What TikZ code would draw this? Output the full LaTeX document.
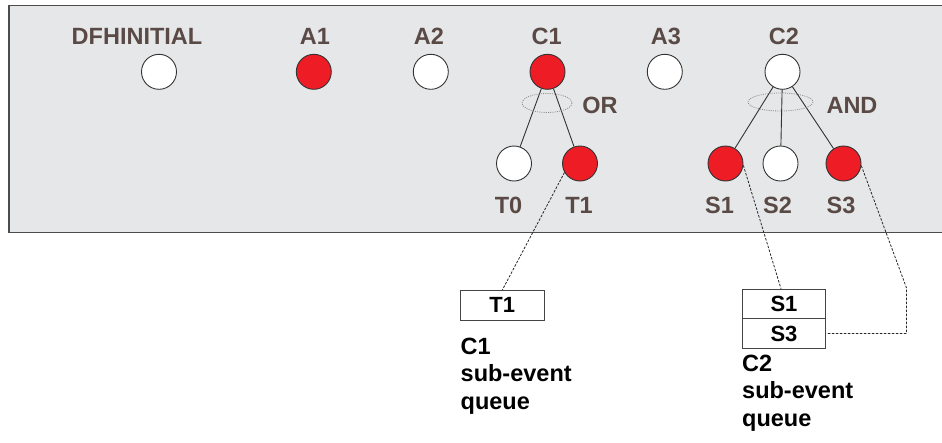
\documentclass[tikz,border=0pt]{standalone}
\usepackage{fontspec}
\setmainfont{Liberation Sans}
\begin{document}
\begin{tikzpicture}[x=1pt,y=-1pt,
  lbl/.style={text=labelc,font=\fontsize{23.5}{26}\selectfont\bfseries,anchor=base,inner sep=0pt},
  qtxt/.style={text=black,font=\fontsize{23.5}{27.5}\selectfont\bfseries,anchor=north west,inner sep=0pt,align=left},
  ev/.style={circle,draw=edgec,line width=0.9pt,minimum size=35pt,inner sep=0pt},
  on/.style={ev,fill=evred},
  off/.style={ev,fill=white},
  qbox/.style={draw=boxc,line width=1pt,fill=white,minimum width=83.5pt,minimum height=29.5pt,inner sep=0pt,font=\fontsize{22}{24}\selectfont\bfseries},
  tree/.style={draw=edgec,line width=0.9pt},
  dotl/.style={draw=black!85,line width=0.8pt,dash pattern=on 2.5pt off 1.5pt},
  grp/.style={draw=black!45,line width=0.8pt,dash pattern=on 1pt off 1.2pt}
]
\definecolor{labelc}{HTML}{5A4A46}
\definecolor{evred}{HTML}{EE1C25}
\definecolor{edgec}{HTML}{333333}
\definecolor{boxc}{HTML}{444444}
\definecolor{panel}{HTML}{E6E7E9}
\useasboundingbox (0,0) rectangle (942,442);
% panel
\fill[panel] (9,5.5) rectangle (943,232.5);
\draw[draw=black!70,line width=1.3pt] (943,5.5) -- (9,5.5) -- (9,232.5) -- (943,232.5);

% top event circles
\node[off] (dfh) at (159,71.8) {};
\node[on]  (a1)  at (313.8,71.8) {};
\node[off] (a2)  at (430.8,71.8) {};
\node[on]  (c1)  at (547.5,71.8) {};
\node[off] (a3)  at (664.8,71.8) {};
\node[off] (c2)  at (782.5,71.8) {};

% top labels
\node[lbl] (ldfh) at (137,44) {DFHINITIAL};
\node[lbl] (la1)  at (315,44) {A1};
\node[lbl] (la2)  at (429,44) {A2};
\node[lbl] (lc1)  at (546.7,44) {C1};
\node[lbl] (la3)  at (665.8,44) {A3};
\node[lbl] (lc2)  at (784,44) {C2};

% children
\node[off] (t0) at (514,163.5) {};
\node[on]  (t1) at (580,163.5) {};
\node[on]  (s1) at (725.5,163.5) {};
\node[off] (s2) at (780.5,163.5) {};
\node[on]  (s3) at (843.5,163.5) {};

\draw[tree] (c1) -- (t0);
\draw[tree] (c1) -- (t1);
\draw[tree] (c2) -- (s1);
\draw[tree] (c2) -- (s2);
\draw[tree] (c2) -- (s3);

% group ellipses
\draw[grp] (547,103) ellipse [x radius=25, y radius=9.5];
\draw[grp] (780.5,102) ellipse [x radius=32.5, y radius=9];
\node[lbl] (lor)  at (600,113) {OR};
\node[lbl] (land) at (852,113) {AND};

% child labels
\node[lbl] (lt0) at (508.5,213) {T0};
\node[lbl] (lt1) at (579,213) {T1};
\node[lbl] (ls1) at (719.5,213) {S1};
\node[lbl] (ls2) at (777.5,213) {S2};
\node[lbl] (ls3) at (841,213) {S3};

% queues
\node[qbox] (qt1) at (502.3,305.3) {T1};
\node[qbox] (qs1) at (784,304) {S1};
\node[qbox] (qs3) at (784,333.5) {S3};

\node[qtxt] (c1txt) at (460.5,337.5) {C1\\sub-event\\queue};
\node[qtxt] (c2txt) at (742,354.5) {C2\\sub-event\\queue};

% dashed references
\draw[dotl] (t1.210) -- (qt1.north);
\draw[dotl] (s1.-6) -- ([xshift=-3pt]qs1.north);
\coordinate (bend) at (906.5,288);
\draw[dotl] (s3.-7) -- (bend) |- (qs3.east);
\end{tikzpicture}
\end{document}
